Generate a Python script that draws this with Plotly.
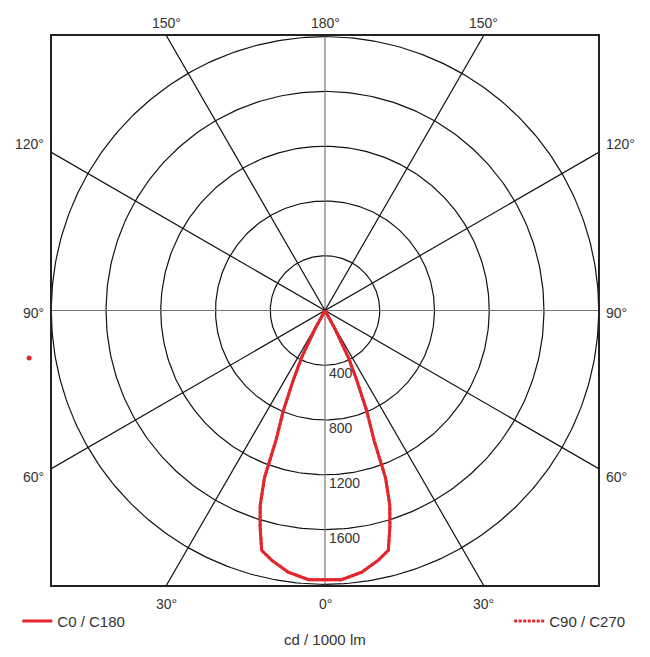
import numpy as np
import plotly.graph_objects as go

# --- data ---
gamma_deg = [0, 3.5, 8, 12, 14.8, 16.7, 18.4, 19.9, 20.7, 22.6, 24.5, 26.5, 28.5, 31]
c0_c180 = [1966, 1970, 1930, 1866, 1812, 1650, 1500, 1300, 1014, 792, 560, 380, 150, 0]
c90_c270 = [1966, 1970, 1930, 1866, 1812, 1650, 1500, 1300, 1014, 792, 560, 380, 150, 0]

ring_values = [400, 800, 1200, 1600, 2000]
ring_labels = ["400", "800", "1200", "1600"]
spoke_angles = [0, 30, 60, 90, 120, 150]
top_labels = ["150°", "180°", "150°"]
side_labels = ["120°", "90°", "60°"]
bottom_labels = ["30°", "0°", "30°"]

FONT = "Arial, Liberation Sans, sans-serif"
RED = "#e3262b"
XR = 1995
YR = 2005


def curve_xy(gam, vals):
    # full C-plane: one half on the left, the other mirrored on the right
    g = np.radians(np.array(gam, dtype=float))
    r = np.array(vals, dtype=float)
    xl, yl = -r * np.sin(g), -r * np.cos(g)
    xr, yr = r * np.sin(g), -r * np.cos(g)
    x = np.concatenate([xl[::-1], xr])
    y = np.concatenate([yl[::-1], yr])
    return x, y


fig = go.Figure()

# rings
t = np.linspace(0, 2 * np.pi, 361)
for rv in ring_values:
    fig.add_trace(go.Scatter(x=rv * np.cos(t), y=rv * np.sin(t), mode="lines",
                             line=dict(color="#111", width=1.2),
                             hoverinfo="skip", showlegend=False))

# spokes
for a in spoke_angles:
    ar = np.radians(a)
    main = a in (0, 90)
    fig.add_trace(go.Scatter(x=[-3000 * np.sin(ar), 3000 * np.sin(ar)],
                             y=[-3000 * np.cos(ar), 3000 * np.cos(ar)],
                             mode="lines",
                             line=dict(color="#777" if main else "#111",
                                       width=1.2),
                             hoverinfo="skip", showlegend=False))

x90, y90 = curve_xy(gamma_deg, c90_c270)
fig.add_trace(go.Scatter(x=x90, y=y90, mode="lines", name="C90 / C270",
                         line=dict(color=RED, width=3, dash="3px,1.5px"),
                         legend="legend2"))
x0, y0 = curve_xy(gamma_deg, c0_c180)
fig.add_trace(go.Scatter(x=x0, y=y0, mode="lines", name="C0 / C180",
                         line=dict(color=RED, width=3), legend="legend"))

ann = []
# ring value labels
for rv, lab in zip(ring_values, ring_labels):
    ann.append(dict(x=12, y=-rv, xref="x", yref="y", text=lab,
                    xanchor="left", yanchor="top", yshift=2,
                    showarrow=False))
# top / bottom angle labels
tx = 2000 * np.tan(np.radians(30))
for xv, lab in zip([-tx, 0, tx], top_labels):
    ann.append(dict(x=xv, y=1, xref="x", yref="paper", text=lab,
                    xanchor="center", yanchor="bottom", yshift=3,
                    showarrow=False))
for xv, lab in zip([-tx, 0, tx], bottom_labels):
    ann.append(dict(x=xv, y=0, xref="x", yref="paper", text=lab,
                    xanchor="center", yanchor="top", yshift=-9,
                    showarrow=False))
# side angle labels
sy = XR / np.tan(np.radians(60))
for yv, sh, lab in zip([sy, 0, -sy], [9, -2, -9], side_labels):
    ann.append(dict(x=0, y=yv, xref="paper", yref="y", text=lab,
                    xanchor="right", yanchor="middle", xshift=-6, yshift=sh,
                    showarrow=False))
    ann.append(dict(x=1, y=yv, xref="paper", yref="y", text=lab,
                    xanchor="left", yanchor="middle", xshift=6, yshift=sh,
                    showarrow=False))
ann.append(dict(x=0.5, y=0, xref="paper", yref="paper", text="cd / 1000 lm",
                xanchor="center", yanchor="top", yshift=-44, showarrow=False,
                font=dict(size=15)))

fig.update_layout(
    width=634, height=641,
    margin=dict(l=44, r=44, t=28, b=64, autoexpand=False),
    paper_bgcolor="white", plot_bgcolor="white",
    font=dict(family=FONT, size=14, color="#333"),
    showlegend=True,
    legend=dict(x=-0.0635, y=-0.0358, xanchor="left", yanchor="top",
                bgcolor="rgba(0,0,0,0)", font=dict(size=15)),
    legend2=dict(x=1.059, y=-0.0358, xanchor="right", yanchor="top",
                 bgcolor="rgba(0,0,0,0)", font=dict(size=15)),
    annotations=ann,
    shapes=[dict(type="circle", xref="paper", yref="paper",
                 xsizemode="pixel", ysizemode="pixel",
                 xanchor=-0.042, yanchor=0.4135,
                 x0=-2.5, x1=2.5, y0=-2.5, y1=2.5,
                 fillcolor=RED, line=dict(width=0))],
)
fig.update_xaxes(range=[-XR, XR], showgrid=False, zeroline=False,
                 showticklabels=False, ticks="", showline=True, mirror=True,
                 linecolor="#222", linewidth=2)
fig.update_yaxes(range=[-YR, YR], showgrid=False, zeroline=False,
                 showticklabels=False, ticks="", showline=True, mirror=True,
                 linecolor="#222", linewidth=2)

fig.write_html("out.html")
